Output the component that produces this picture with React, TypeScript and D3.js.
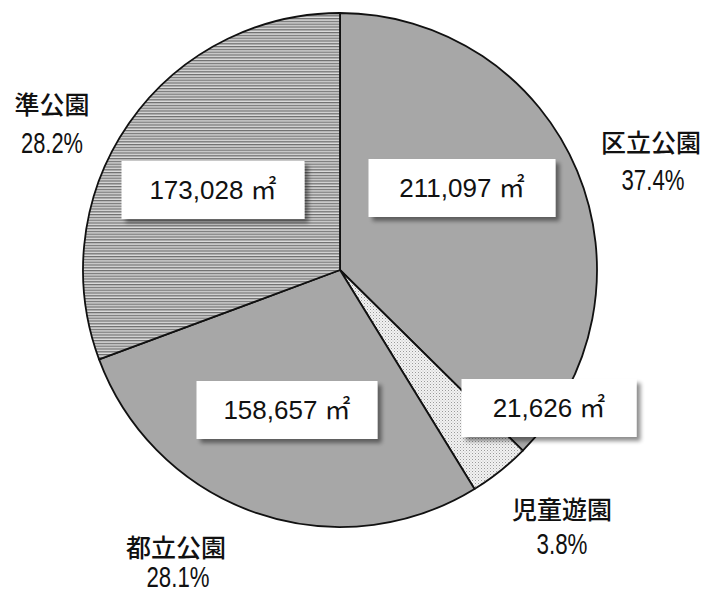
import React from "react";
import * as d3 from "d3";

const categories = ["区立公園", "児童遊園", "都立公園", "準公園"];
const areas = [211097, 21626, 158657, 173028];
const percents = ["37.4%", "3.8%", "28.1%", "28.2%"];
const fills = ["#a7a7a7", "url(#dots)", "#a7a7a7", "url(#hlines)"];

// label placements (layout, not data)
const boxCenters: [number, number][] = [
  [462, 188],
  [549, 408],
  [287, 410],
  [213, 190],
];
const nameCenters: [number, number][] = [
  [651, 152],
  [562, 519],
  [176, 557],
  [52, 114],
];
const pctBaselines = [190, 554, 587, 153];
const pctCenters = [653, 562, 178, 52];
const pctWidths = [63, 51, 63, 62];

const W = 707;
const H = 592;
const cx = 340;
const cy = 270;
const R = 257;

export default function App() {
  const pie = d3.pie<number>().sort(null).value((d) => d)(areas);
  const arc = d3.arc<d3.PieArcDatum<number>>().innerRadius(0).outerRadius(R);
  const fmt = d3.format(",");
  const boxW = [187, 175, 181, 183];
  const boxH = 58;

  return (
    <svg
      width={W}
      height={H}
      style={{ position: "absolute", left: 0, top: 0, background: "#fff" }}
    >
      <defs>
        <pattern id="hlines" width="4" height="2.8" patternUnits="userSpaceOnUse">
          <rect width="4" height="2.8" fill="#dcdcdc" />
          <rect width="4" height="1.3" fill="#707070" />
        </pattern>
        <pattern id="dots" width="3" height="3" patternUnits="userSpaceOnUse">
          <rect width="3" height="3" fill="#f2f2f2" />
          <rect width="1" height="1" fill="#9a9a9a" />
          <rect x="1.5" y="1.5" width="1" height="1" fill="#c0c0c0" />
        </pattern>
        <filter id="shadow" x="-20%" y="-30%" width="140%" height="160%">
          <feGaussianBlur in="SourceAlpha" stdDeviation="2" />
          <feOffset dx="4" dy="4" result="b" />
          <feComponentTransfer>
            <feFuncA type="linear" slope="0.45" />
          </feComponentTransfer>
          <feMerge>
            <feMergeNode />
            <feMergeNode in="SourceGraphic" />
          </feMerge>
        </filter>
      </defs>
      <rect width={W} height={H} fill="#fff" />
      <g transform={`translate(${cx},${cy})`}>
        {pie.map((p, i) => (
          <path
            key={i}
            d={arc(p) || ""}
            fill={fills[i]}
            stroke="#111"
            strokeWidth={1.8}
            strokeLinejoin="round"
          />
        ))}
      </g>
      {pie.map((p, i) => {
        const [bx, by] = boxCenters[i];
        const w = boxW[i];
        return (
          <g key={"b" + i}>
            <rect
              x={bx - w / 2}
              y={by - boxH / 2}
              width={w}
              height={boxH}
              fill="#fff"
              filter="url(#shadow)"
            />
            <text
              x={bx}
              y={by + 9}
              textAnchor="middle"
              fontFamily="'Liberation Sans', Arial, 'Noto Sans CJK JP'"
              fontSize={26}
              fill="#111"
            >
              {fmt(p.data) + " ㎡"}
            </text>
          </g>
        );
      })}
      {categories.map((c, i) => {
        const [nx, ny] = nameCenters[i];
        return (
          <g key={"n" + i}>
            <text
              x={nx}
              y={ny}
              textAnchor="middle"
              fontFamily="'Noto Sans CJK JP'"
              fontWeight={500}
              fontSize={25}
              fill="#111"
            >
              {c}
            </text>
            <text
              x={pctCenters[i]}
              y={pctBaselines[i]}
              textAnchor="middle"
              fontFamily="'Liberation Sans', Arial"
              fontSize={29}
              textLength={pctWidths[i]}
              lengthAdjust="spacingAndGlyphs"
              fill="#111"
            >
              {percents[i]}
            </text>
          </g>
        );
      })}
    </svg>
  );
}
